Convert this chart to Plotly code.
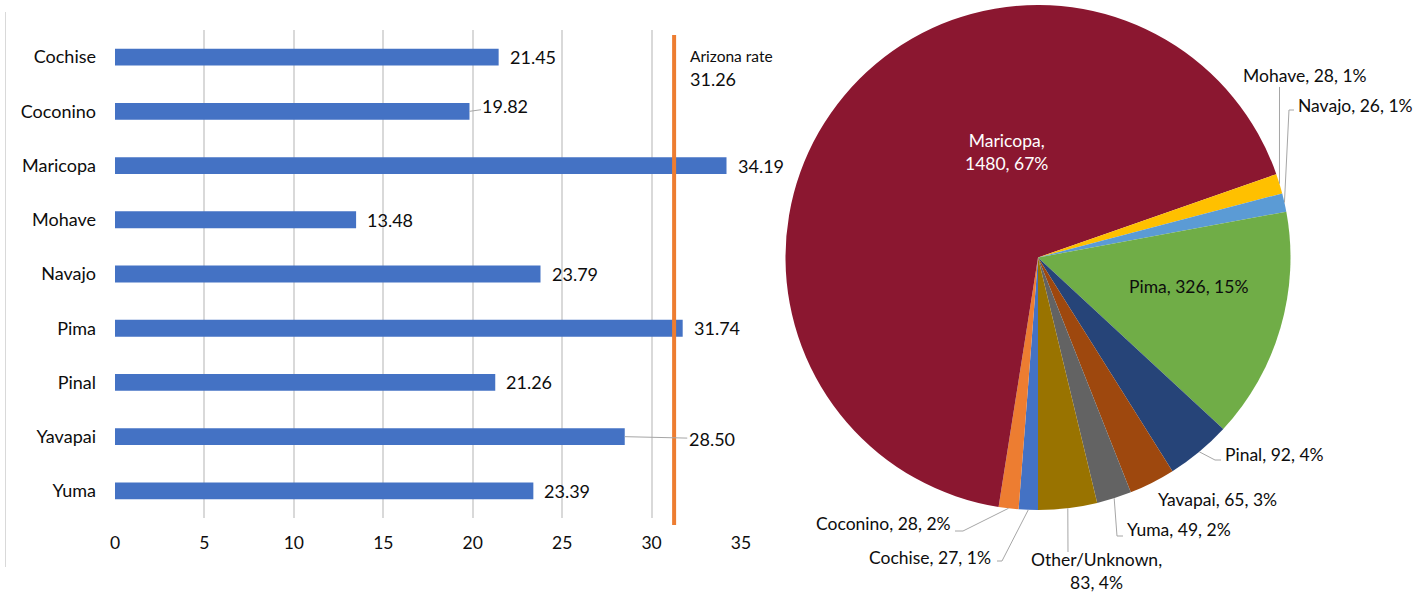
import math
import plotly.graph_objects as go

# ---------------- data ----------------
counties = ["Cochise", "Coconino", "Maricopa", "Mohave", "Navajo",
            "Pima", "Pinal", "Yavapai", "Yuma"]
rates = [21.45, 19.82, 34.19, 13.48, 23.79, 31.74, 21.26, 28.50, 23.39]
arizona_rate = 31.26
x_ticks = [0, 5, 10, 15, 20, 25, 30, 35]

pie_labels = ["Cochise", "Coconino", "Maricopa", "Mohave", "Navajo",
              "Pima", "Pinal", "Yavapai", "Yuma", "Other/Unknown"]
pie_counts = [27, 28, 1480, 28, 26, 326, 92, 65, 49, 83]
pie_pcts = ["1%", "2%", "67%", "1%", "1%", "15%", "4%", "3%", "2%", "4%"]

# ---------------- styles / layout ----------------
pie_colors = ["#4472C4", "#ED7D31", "#8B1730", "#FFC000", "#5B9BD5",
              "#70AD47", "#264478", "#9E480E", "#636363", "#997300"]
FONT = "Lato"
TXT = "#0d0d0d"
W, H = 1427, 593


def px(x):
    return x / W


def py(y):
    return 1 - y / H


BAR_X_DOMAIN = [px(115), px(741)]
BAR_Y_DOMAIN = [py(518), py(30)]
PIE_X_DOMAIN = [px(785.5), px(1290.5)]
PIE_Y_DOMAIN = [py(510), py(5)]

# bar value labels that need a leader line: (pixel dx, pixel dy) of the label centre
BAR_LEADERS = {"Coconino": (36, -5), "Yavapai": (87, 2)}

# pie label placement (pixels)
PIE_LABEL_LAYOUT = {
    "Cochise": dict(x=993, y=557, anchor="right", path=[(1002, 561), (997, 561)]),
    "Coconino": dict(x=953, y=523, anchor="right", path=[(963, 531), (955, 531)]),
    "Maricopa": dict(x=1006, y=152, anchor="center", color="white", br=True),
    "Mohave": dict(x=1241, y=75, anchor="left", path=[(1279.5, 87)]),
    "Navajo": dict(x=1296, y=105, anchor="left", path=[(1289, 110), (1294, 110)]),
    "Pima": dict(x=1188, y=287, anchor="center"),
    "Pinal": dict(x=1223, y=454, anchor="left", path=[(1215, 460), (1221, 460)]),
    "Yavapai": dict(x=1156, y=499, anchor="left"),
    "Yuma": dict(x=1125, y=529, anchor="left", path=[(1117, 536), (1123, 536)]),
    "Other/Unknown": dict(x=1096, y=571, anchor="center", br=True, path=[(1068, 552)]),
}

fig = go.Figure()

fig.add_trace(go.Bar(
    x=rates, y=counties, orientation="h", width=0.31,
    marker=dict(color="#4472C4", line=dict(width=0)),
    xaxis="x", yaxis="y", showlegend=False, hoverinfo="x+y",
))

fig.add_trace(go.Pie(
    labels=pie_labels, values=pie_counts, sort=False,
    direction="clockwise", rotation=180,
    marker=dict(colors=pie_colors, line=dict(width=0)),
    textinfo="none", showlegend=False, automargin=False,
    domain=dict(x=PIE_X_DOMAIN, y=PIE_Y_DOMAIN),
))

annotations = []
shapes = []

# bar value labels
for c, v in zip(counties, rates):
    label = f"{v:.2f}"
    if c in BAR_LEADERS:
        dx, dy = BAR_LEADERS[c]
        annotations.append(dict(
            x=v, y=c, xref="x", yref="y", text=label, showarrow=True,
            ax=dx, ay=dy, arrowhead=0, arrowwidth=1, arrowcolor="#A6A6A6",
            standoff=0, font=dict(family=FONT, size=18, color=TXT)))
    else:
        annotations.append(dict(
            x=v, y=c, xref="x", yref="y", text=label, showarrow=False,
            xanchor="left", xshift=9, yanchor="middle",
            font=dict(family=FONT, size=18, color=TXT)))

# Arizona rate line + label
shapes.append(dict(type="line", xref="x", yref="paper",
                   x0=arizona_rate, x1=arizona_rate, y0=py(525), y1=py(35),
                   line=dict(color="#ED7D31", width=4)))
annotations.append(dict(x=arizona_rate, y=py(56), xref="x", yref="paper",
                        text="Arizona rate", showarrow=False, xanchor="left",
                        xshift=14, yanchor="middle",
                        font=dict(family=FONT, size=15.5, color=TXT)))
annotations.append(dict(x=arizona_rate, y=py(79), xref="x", yref="paper",
                        text=f"{arizona_rate:.2f}", showarrow=False,
                        xanchor="left", xshift=14, yanchor="middle",
                        font=dict(family=FONT, size=18, color=TXT)))

# left border of the bar chart panel
shapes.append(dict(type="line", xref="paper", yref="paper",
                   x0=px(5.5), x1=px(5.5), y0=py(12), y1=py(567),
                   line=dict(color="#D9D9D9", width=1)))

# pie geometry from domain
cx = W * (PIE_X_DOMAIN[0] + PIE_X_DOMAIN[1]) / 2
cy = H * (1 - (PIE_Y_DOMAIN[0] + PIE_Y_DOMAIN[1]) / 2)
r = min(W * (PIE_X_DOMAIN[1] - PIE_X_DOMAIN[0]),
        H * (PIE_Y_DOMAIN[1] - PIE_Y_DOMAIN[0])) / 2
total = sum(pie_counts)
cum = 0
for name, cnt, pct in zip(pie_labels, pie_counts, pie_pcts):
    mid = 180 + 360 * (cum + cnt / 2) / total
    cum += cnt
    lay = PIE_LABEL_LAYOUT[name]
    sep = ",<br>" if lay.get("br") else ", "
    text = f"{name}{sep}{cnt}, {pct}"
    annotations.append(dict(
        x=px(lay["x"]), y=py(lay["y"]), xref="paper", yref="paper",
        text=text, showarrow=False, xanchor=lay["anchor"], yanchor="middle",
        align="center",
        font=dict(family=FONT, size=17.5, color=lay.get("color", TXT))))
    if "path" in lay:
        ex = cx + r * math.sin(math.radians(mid))
        ey = cy - r * math.cos(math.radians(mid))
        pts = [(ex, ey)] + lay["path"]
        d = "M " + " L ".join(f"{px(a):.5f} {py(b):.5f}" for a, b in pts)
        shapes.append(dict(type="path", xref="paper", yref="paper", path=d,
                           line=dict(color="#A6A6A6", width=1)))

fig.update_layout(
    width=W, height=H, autosize=False,
    margin=dict(l=0, r=0, t=0, b=0, pad=0, autoexpand=False),
    paper_bgcolor="white", plot_bgcolor="white",
    xaxis=dict(domain=BAR_X_DOMAIN, range=[0, 35], tickvals=x_ticks,
               showgrid=True, gridcolor="#D9D9D9", gridwidth=1.5,
               zeroline=False, showline=False, ticks="",
               ticklabelstandoff=12, automargin=False,
               tickfont=dict(family=FONT, size=17.5, color=TXT), anchor="y"),
    yaxis=dict(domain=BAR_Y_DOMAIN, type="category",
               categoryorder="array", categoryarray=counties,
               range=[8.5, -0.5], showgrid=False, zeroline=False,
               showline=False, ticks="", ticklabelstandoff=18,
               automargin=False,
               tickfont=dict(family=FONT, size=18, color=TXT), anchor="x"),
    annotations=annotations,
    shapes=shapes,
    font=dict(family=FONT, color=TXT),
)

fig.write_html("out.html")
